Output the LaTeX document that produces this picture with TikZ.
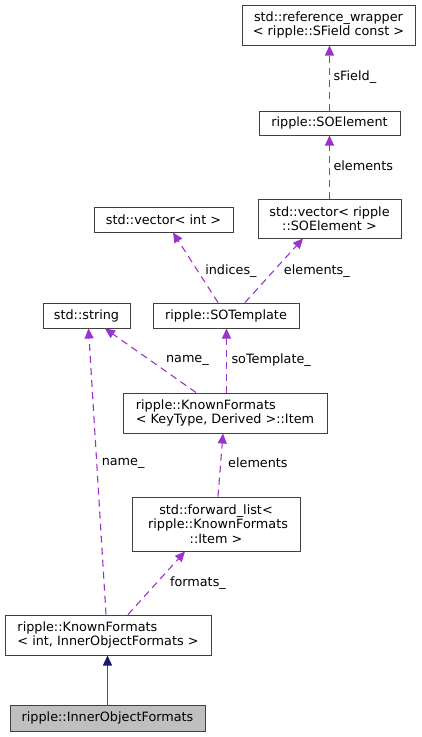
\documentclass[tikz,border=0pt]{standalone}
\usepackage{fontspec}
\setmainfont{DejaVu Sans}
\usetikzlibrary{arrows.meta}
\definecolor{usecol}{HTML}{9A32CD}
\definecolor{inhcol}{HTML}{191970}
\definecolor{inhline}{HTML}{4E4E9E}
\definecolor{boxcol}{HTML}{404040}
\definecolor{leafcol}{HTML}{BFBFBF}
\newcommand{\dxfont}{\fontsize{12.8}{14.3}\selectfont}

\begin{document}
\begin{tikzpicture}[x=1pt,y=-1pt,
    cls/.style={draw=boxcol,line width=1pt,fill=white,inner sep=0pt,font=\dxfont,align=center},
    usage/.style={usecol,line width=1.1pt,dash pattern=on 7pt off 5pt,-{Triangle[length=10pt,width=9pt]}},
    inherit/.style={inhline,line width=1.3pt,-{Triangle[length=10pt,width=9pt,color=inhcol]}},
    lbl/.style={font=\dxfont,inner sep=0pt,anchor=west,text=black}]
    \useasboundingbox (0,0) rectangle (422,737);
    % classes
    \node[cls,minimum width=173pt,minimum height=40pt] (refwrap) at (328.5,25) {std::reference\_wrapper\\< ripple::SField const >};
    \node[cls,minimum width=141pt,minimum height=24pt] (soelem) at (329.5,123) {ripple::SOElement};
    \node[cls,minimum width=143pt,minimum height=39pt] (vecsoelem) at (329.5,218.5) {std::vector< ripple\\::SOElement >};
    \node[cls,minimum width=139pt,minimum height=25pt] (vecint) at (163.5,219.5) {std::vector< int >};
    \node[cls,minimum width=87pt,minimum height=25pt] (stdstring) at (86.5,315.5) {std::string};
    \node[cls,minimum width=146pt,minimum height=25pt] (sotemplate) at (226,315.5) {ripple::SOTemplate};
    \node[cls,align=left,minimum width=204pt,minimum height=40pt] (kfitem) at (225,413) {ripple::KnownFormats\\< KeyType, Derived >::Item};
    \node[cls,minimum width=168pt,minimum height=54pt] (fwdlist) at (216,524) {std::forward\_list<\\\hspace*{.32em}ripple::KnownFormats\\::Item >};
    \node[cls,align=left,minimum width=206pt,minimum height=40pt] (kfinner) at (108,635) {ripple::KnownFormats\\< int, InnerObjectFormats >};
    \node[cls,fill=leafcol,minimum width=195pt,minimum height=26pt] (innerobj) at (107.5,718) {ripple::InnerObjectFormats};
    % members
    \draw[usage] (soelem.north) -- node[lbl,pos=0.52,xshift=3.5pt]{sField\_} (soelem.north |- refwrap.south);
    \draw[usage] (vecsoelem.north) -- node[lbl,pos=0.52,xshift=3.5pt]{elements} (soelem.south);
    \draw[usage] ([xshift=-8pt]sotemplate.north) -- node[lbl,pos=0.45,xshift=7pt]{indices\_} ([xshift=9.5pt]vecint.south);
    \draw[usage] ([xshift=19pt]sotemplate.north) -- node[lbl,pos=0.49,xshift=10pt]{elements\_} ([xshift=-26.5pt]vecsoelem.south);
    \draw[usage] ([xshift=-29pt]kfitem.north) -- node[lbl,pos=0.5,xshift=15pt]{name\_} ([xshift=18.5pt]stdstring.south);
    \draw[usage] ([xshift=1.5pt]kfitem.north) -- node[lbl,pos=0.51,xshift=4.5pt]{soTemplate\_} ([xshift=0.5pt]sotemplate.south);
    \draw[usage] ([xshift=-2pt]kfinner.north) -- node[lbl,pos=0.53,xshift=4.5pt]{name\_} ([xshift=2pt]stdstring.south);
    \draw[usage] ([xshift=2pt]fwdlist.north) -- node[lbl,pos=0.53,xshift=7pt]{elements} ([xshift=-2pt]kfitem.south);
    \draw[usage] ([xshift=20pt]kfinner.north) -- node[lbl,pos=0.5,xshift=13pt]{formats\_} ([xshift=-31pt]fwdlist.south);
    % base class
    \draw[inherit] (innerobj.north) -- (innerobj.north |- kfinner.south);
\end{tikzpicture}
\end{document}
